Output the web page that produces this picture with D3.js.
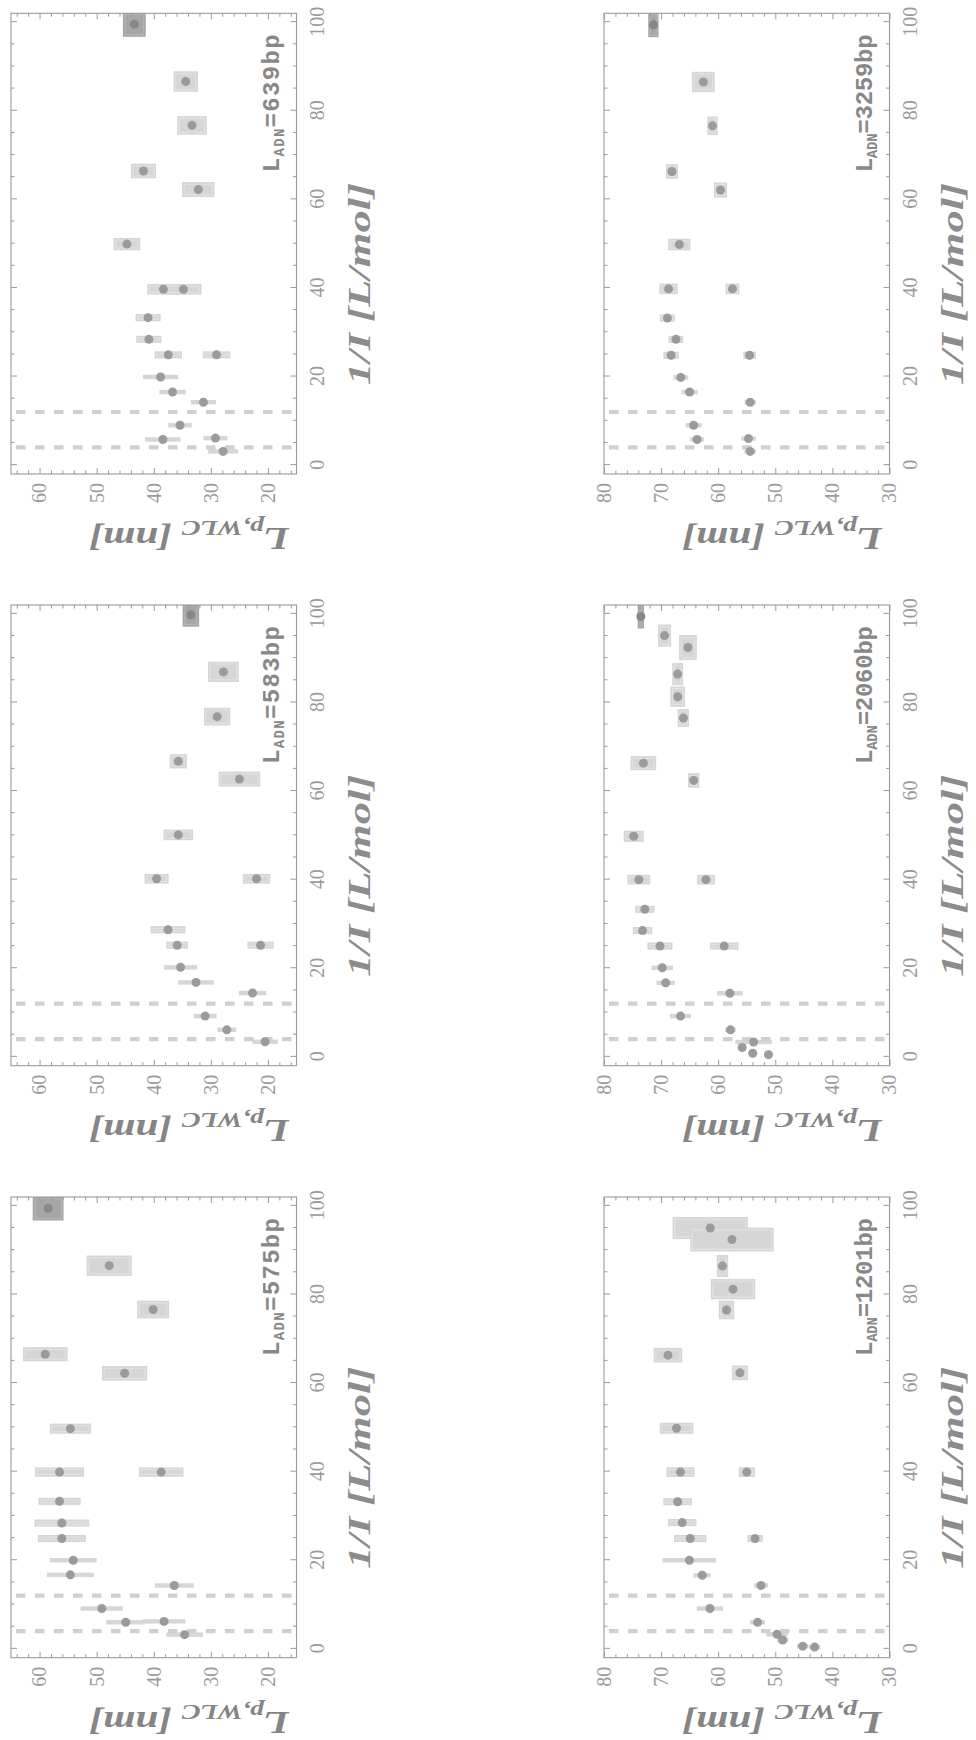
<!DOCTYPE html>
<html><head><meta charset="utf-8">
<script src="https://cdn.jsdelivr.net/npm/d3@7"></script>
<style>body{margin:0;background:#fff}svg{display:block}</style>
</head><body><svg id="c" width="976" height="1740"></svg>
<script>
// ---- data (1/I in L/mol, Lp in nm, half-widths of error boxes) ----
const inv575   = [99.4, 86.5, 76.6, 66.5, 62.2, 49.7, 39.9, 39.9, 33.3, 28.4, 24.9, 20.0, 16.7, 14.3, 9.1, 6.0, 6.2, 3.2];
const lp575    = [58.5, 47.8, 40.1, 59.0, 45.1, 54.6, 56.5, 38.7, 56.5, 56.1, 56.1, 54.1, 54.6, 36.4, 49.1, 44.9, 38.2, 34.6];
const invErr575= [2.7, 2.3, 2.0, 1.6, 1.65, 1.15, 1.05, 1.05, 0.8, 0.8, 0.8, 0.5, 0.5, 0.5, 0.5, 0.5, 0.5, 0.5];
const lpErr575 = [2.7, 3.95, 2.8, 3.9, 3.95, 3.6, 4.3, 3.9, 3.7, 4.8, 4.2, 4.1, 4.1, 3.4, 3.7, 3.4, 3.75, 3.2];

const inv583   = [99.8, 86.9, 76.8, 66.7, 62.7, 50.1, 40.2, 40.2, 28.7, 25.2, 25.2, 20.2, 16.8, 14.4, 9.2, 6.1, 3.4];
const lp583    = [33.5, 27.8, 28.9, 35.7, 25.0, 35.7, 39.5, 22.0, 37.5, 35.9, 21.3, 35.3, 32.6, 22.7, 31.0, 27.2, 20.5];
const invErr583= [2.7, 2.3, 2.0, 1.6, 1.7, 1.2, 1.1, 1.1, 0.8, 0.8, 0.8, 0.5, 0.5, 0.5, 0.5, 0.5, 0.5];
const lpErr583 = [1.45, 2.7, 2.3, 1.5, 3.65, 2.6, 2.1, 2.4, 3.05, 1.9, 2.3, 2.9, 3.1, 2.4, 2.0, 1.65, 2.2];

const inv639   = [99.5, 86.6, 76.7, 66.4, 62.2, 49.9, 39.7, 39.7, 33.3, 28.4, 24.9, 24.9, 19.9, 16.5, 14.2, 9.0, 5.8, 6.1, 3.1];
const lp639    = [43.4, 34.4, 33.3, 41.8, 32.2, 44.7, 38.3, 34.8, 41.0, 40.85, 37.45, 29.0, 38.8, 36.7, 31.3, 35.4, 38.4, 29.2, 27.85];
const invErr639= [2.8, 2.3, 2.1, 1.65, 1.7, 1.4, 1.2, 1.2, 0.8, 0.8, 0.8, 0.8, 0.5, 0.5, 0.5, 0.5, 0.5, 0.5, 0.5];
const lpErr639 = [2.0, 2.14, 2.58, 2.2, 2.84, 2.34, 2.84, 3.16, 2.2, 2.2, 2.4, 2.4, 3.1, 2.3, 2.2, 2.05, 3.1, 2.1, 2.6];

const inv1201   = [95.0, 92.4, 86.4, 81.2, 76.5, 66.3, 62.3, 49.8, 39.9, 39.9, 33.2, 28.5, 24.9, 24.9, 20.0, 16.6, 14.3, 9.1, 6.0, 3.3, 2.0, 0.6, 0.4];
const lp1201    = [61.4, 57.6, 59.25, 57.4, 58.55, 68.8, 56.2, 67.3, 66.6, 55.0, 67.1, 66.3, 64.9, 53.55, 65.05, 62.8, 52.5, 61.45, 53.1, 49.7, 48.7, 45.2, 43.1];
const invErr1201= [2.5, 2.7, 2.5, 2.3, 2.1, 1.65, 1.65, 1.25, 1.1, 1.1, 0.8, 0.8, 0.8, 0.8, 0.5, 0.5, 0.5, 0.5, 0.5, 0.5, 0.5, 0.5, 0.5];
const lpErr1201 = [6.6, 7.3, 1.0, 3.9, 1.35, 2.5, 1.4, 2.95, 2.45, 1.4, 2.5, 2.5, 2.85, 1.35, 4.7, 1.5, 1.2, 2.3, 1.3, 1.9, 1.0, 1.0, 1.0];

const inv2060   = [99.4, 95.1, 92.4, 86.4, 81.3, 76.5, 66.3, 62.4, 49.8, 40.0, 40.0, 33.3, 28.5, 25.0, 25.0, 20.1, 16.7, 14.35, 9.2, 6.1, 3.35, 2.1, 0.8, 0.5];
const lp2060    = [73.55, 69.4, 65.3, 67.1, 67.1, 66.1, 73.1, 64.3, 74.8, 73.9, 62.15, 72.85, 73.25, 70.2, 58.95, 69.8, 69.2, 57.95, 66.6, 57.85, 53.8, 55.8, 53.95, 51.2];
const invErr2060= [2.7, 2.5, 2.8, 2.5, 2.3, 2.0, 1.6, 1.65, 1.25, 1.1, 1.1, 0.8, 0.8, 0.8, 0.8, 0.5, 0.5, 0.5, 0.5, 0.5, 0.5, 0.5, 0.5, 0.5];
const lpErr2060 = [0.55, 1.15, 1.55, 0.95, 1.3, 1.0, 2.25, 1.0, 1.75, 2.0, 1.55, 1.7, 1.7, 2.2, 2.5, 1.9, 1.6, 2.25, 1.85, 0.9, 3.2, 0.6, 0.6, 0.5];

const inv3259   = [99.4, 86.5, 76.6, 66.3, 62.1, 49.8, 39.8, 39.8, 33.2, 28.4, 24.8, 24.8, 19.8, 16.5, 14.2, 9.0, 5.8, 6.0, 3.1];
const lp3259    = [71.35, 62.6, 61.0, 68.1, 59.6, 66.8, 68.7, 57.5, 68.9, 67.4, 68.25, 54.5, 66.55, 65.0, 54.4, 64.3, 63.7, 54.7, 54.4];
const invErr3259= [2.8, 2.3, 2.1, 1.65, 1.7, 1.3, 1.2, 1.2, 0.8, 0.8, 0.8, 0.8, 0.5, 0.5, 0.5, 0.5, 0.5, 0.5, 0.5];
const lpErr3259 = [0.9, 2.0, 0.9, 1.05, 1.15, 1.95, 1.6, 1.2, 1.3, 1.3, 1.35, 1.1, 1.3, 1.4, 1.0, 1.4, 1.2, 1.25, 1.0];

const dashedInv = [4, 12];
const invDomain = [-2, 102];
const invTicks = [0, 20, 40, 60, 80, 100];
const lpDomainShort = [15, 65];
const lpTicksShort = [20, 30, 40, 50, 60];
const lpDomainLong = [30, 80];
const lpTicksLong = [30, 40, 50, 60, 70, 80];
const xTitle = "1/I [L/mol]";

// ---- layout (display coordinates of each frame) ----
const W = 285.5, H = 460.7;
const colL = [11, 604];
const rowT = [13.3, 605, 1197];

const panels = [
  {bp:"575",  inv:inv575,  lp:lp575,  ei:invErr575,  el:lpErr575,  col:0, row:2, dom:lpDomainShort, ticks:lpTicksShort},
  {bp:"583",  inv:inv583,  lp:lp583,  ei:invErr583,  el:lpErr583,  col:0, row:1, dom:lpDomainShort, ticks:lpTicksShort},
  {bp:"639",  inv:inv639,  lp:lp639,  ei:invErr639,  el:lpErr639,  col:0, row:0, dom:lpDomainShort, ticks:lpTicksShort},
  {bp:"1201", inv:inv1201, lp:lp1201, ei:invErr1201, el:lpErr1201, col:1, row:2, dom:lpDomainLong,  ticks:lpTicksLong},
  {bp:"2060", inv:inv2060, lp:lp2060, ei:invErr2060, el:lpErr2060, col:1, row:1, dom:lpDomainLong,  ticks:lpTicksLong},
  {bp:"3259", inv:inv3259, lp:lp3259, ei:invErr3259, el:lpErr3259, col:1, row:0, dom:lpDomainLong,  ticks:lpTicksLong}
];

const svg = d3.select("#c");
svg.append("rect").attr("width",976).attr("height",1740).attr("fill","#fff");
const axisColor = "#9a9a9a";

panels.forEach((p, pi) => {
  const L = colL[p.col], T = rowT[p.row];
  const g = svg.append("g").attr("transform", `translate(${L},${T + H}) rotate(-90)`);
  const x = d3.scaleLinear().domain(invDomain).range([0, H]);
  const y = d3.scaleLinear().domain(p.dom).range([W, 0]);

  const clipId = "clip" + pi;
  g.append("clipPath").attr("id", clipId).append("rect").attr("width", H).attr("height", W);
  const plot = g.append("g").attr("clip-path", `url(#${clipId})`);

  const data = p.inv.map((v, i) => ({inv: v, lp: p.lp[i], ei: p.ei[i], el: p.el[i], dark: v > 98}));

  // error boxes
  const boxes = plot.selectAll("g.box").data(data).join("g").attr("class","box");
  boxes.append("rect")
    .attr("x", d => x(d.inv - d.ei))
    .attr("width", d => x(d.inv + d.ei) - x(d.inv - d.ei))
    .attr("y", d => y(d.lp + d.el))
    .attr("height", d => y(d.lp - d.el) - y(d.lp + d.el))
    .attr("fill", d => d.dark ? "#a6a6a6" : "#d6d6d6");
  boxes.filter(d => d.ei >= 0.8).append("rect")
    .attr("x", d => x(d.inv - d.ei) + 2.2)
    .attr("width", d => Math.max(0, x(d.inv + d.ei) - x(d.inv - d.ei) - 4.4))
    .attr("y", d => y(d.lp + d.el) + 2.2)
    .attr("height", d => Math.max(0, y(d.lp - d.el) - y(d.lp + d.el) - 4.4))
    .attr("fill", "none")
    .attr("stroke", d => d.dark ? "#b4b4b4" : "#e2e2e2")
    .attr("stroke-width", 1.2);

  // dashed reference lines
  plot.selectAll("line.dash").data(dashedInv).join("line").attr("class","dash")
    .attr("x1", d => x(d)).attr("x2", d => x(d))
    .attr("y1", 0).attr("y2", W)
    .attr("stroke", "#d0d0d0").attr("stroke-width", 4.2)
    .attr("stroke-dasharray", "9.5,9.5").attr("stroke-dashoffset", -5);

  // points
  plot.selectAll("circle").data(data).join("circle")
    .attr("cx", d => x(d.inv)).attr("cy", d => y(d.lp)).attr("r", 4.5)
    .attr("fill", d => d.dark ? "#888" : "#9b9b9b");

  // frame
  g.append("rect").attr("width", H).attr("height", W)
    .attr("fill","none").attr("stroke", axisColor).attr("stroke-width", 1.1);

  // ticks
  const minorX = d3.range(0, 101, 5).filter(v => v % 20 !== 0);
  const minorY = d3.range(Math.ceil(p.dom[0]/2)*2, p.dom[1] + 0.01, 2).filter(v => v % 10 !== 0);
  function styleAxis(sel){
    sel.select(".domain").remove();
    sel.selectAll("line").attr("stroke", axisColor).attr("stroke-width", 1);
    sel.selectAll("text").attr("fill", axisColor)
      .attr("font-family", "'Liberation Serif', 'Times New Roman', serif")
      .attr("font-size", 20);
  }
  g.append("g").attr("transform", `translate(0,${W})`)
    .call(d3.axisBottom(x).tickValues(invTicks).tickSize(-6).tickPadding(13).tickFormat(d3.format("d"))).call(styleAxis);
  g.append("g").attr("transform", `translate(0,${W})`)
    .call(d3.axisBottom(x).tickValues(minorX).tickSize(-3.5).tickFormat("")).call(styleAxis);
  g.append("g").call(d3.axisTop(x).tickValues(invTicks).tickSize(-6).tickFormat("")).call(styleAxis);
  g.append("g").call(d3.axisTop(x).tickValues(minorX).tickSize(-3.5).tickFormat("")).call(styleAxis);
  g.append("g").call(d3.axisLeft(y).tickValues(p.ticks).tickSize(-6).tickPadding(9).tickFormat(d3.format("d"))).call(styleAxis);
  g.append("g").call(d3.axisLeft(y).tickValues(minorY).tickSize(-3.5).tickFormat("")).call(styleAxis);
  g.append("g").attr("transform", `translate(${H},0)`)
    .call(d3.axisRight(y).tickValues(p.ticks).tickSize(-6).tickFormat("")).call(styleAxis);
  g.append("g").attr("transform", `translate(${H},0)`)
    .call(d3.axisRight(y).tickValues(minorY).tickSize(-3.5).tickFormat("")).call(styleAxis);

  // x title
  g.append("text").attr("x", 190).attr("y", W + 73)
    .attr("text-anchor","middle")
    .attr("font-family","'Liberation Serif', 'Times New Roman', serif")
    .attr("font-style","italic").attr("font-weight","bold")
    .attr("font-size", 31).attr("fill", "#8c8c8c")
    .attr("textLength", 202).attr("lengthAdjust","spacingAndGlyphs")
    .text(xTitle);

  // y title
  const yt = g.append("text").attr("transform", "translate(-54,178) rotate(-90)")
    .attr("text-anchor","middle")
    .attr("font-family","'Liberation Serif', 'Times New Roman', serif")
    .attr("font-style","italic").attr("font-weight","bold")
    .attr("font-size", 31).attr("fill", "#858585")
    .attr("textLength", 200).attr("lengthAdjust","spacingAndGlyphs");
  yt.append("tspan").text("L");
  yt.append("tspan").attr("font-size", 21).attr("dy", 7).text("p,WLC");
  yt.append("tspan").attr("dy", -7).text(" [nm]");

  // length label
  const lt = g.append("text").attr("x", H - 21).attr("y", W - 18)
    .attr("text-anchor","end")
    .attr("font-family","'Liberation Mono', 'Courier New', monospace")
    .attr("font-weight","bold").attr("font-size", 24).attr("fill", "#888")
    .attr("textLength", 138).attr("lengthAdjust","spacing");
  lt.append("tspan").text("L");
  lt.append("tspan").attr("font-size", 14).attr("dy", 5).text("ADN");
  lt.append("tspan").attr("dy", -5).text("=" + p.bp + "bp");
});
</script>
</body></html>
